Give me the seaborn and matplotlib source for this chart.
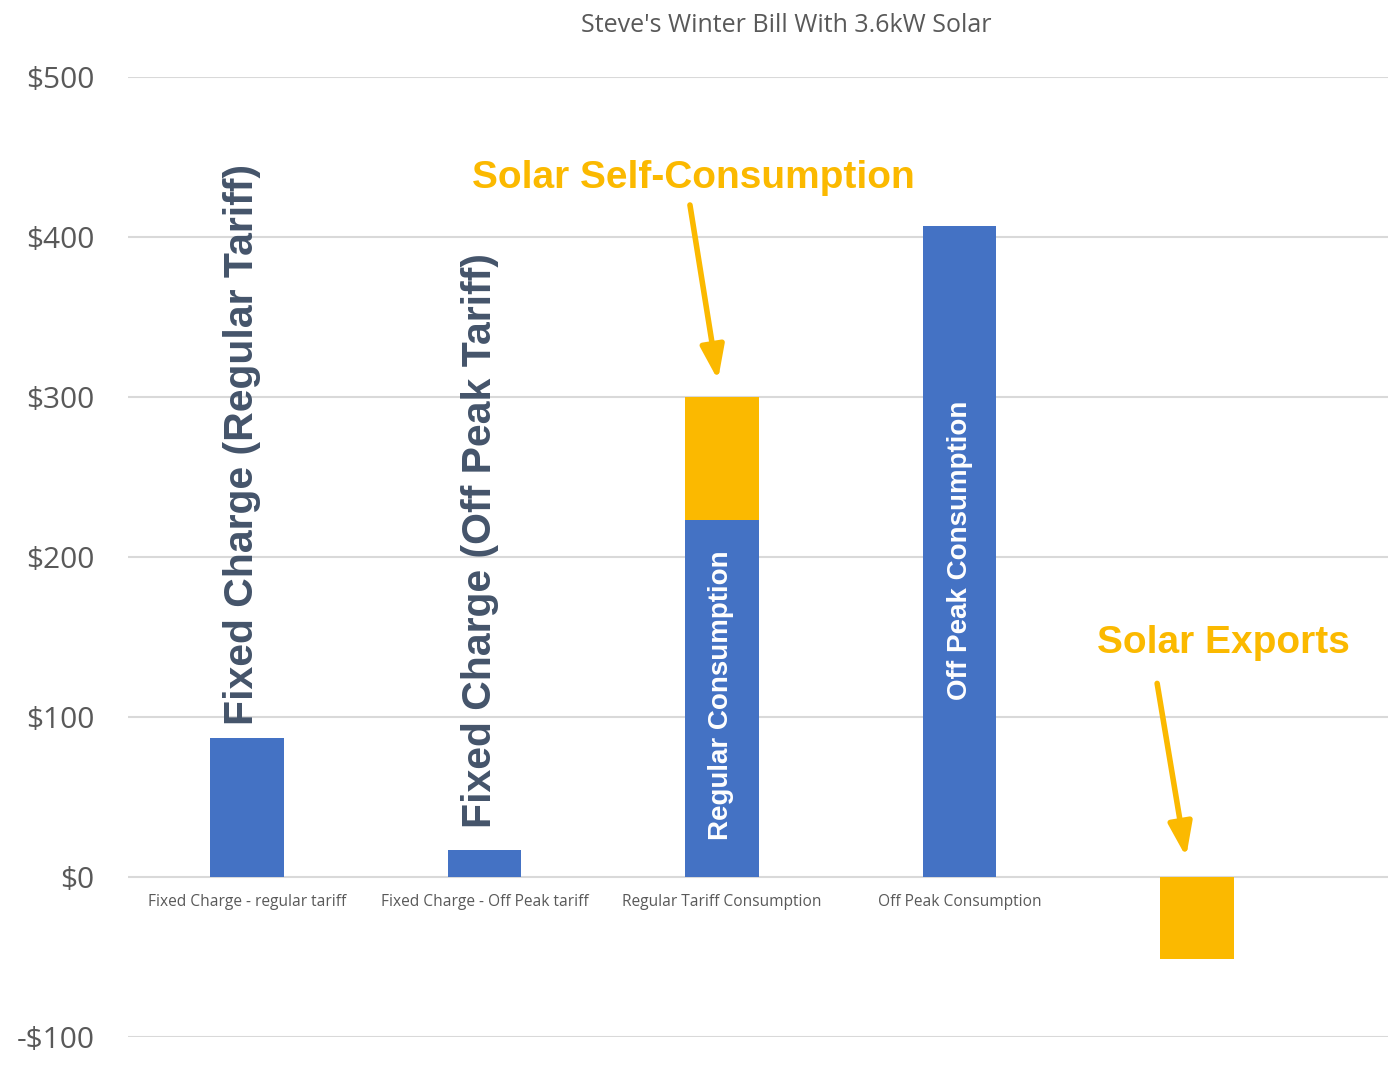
import matplotlib
matplotlib.use("Agg")
import matplotlib.pyplot as plt
import seaborn as sns
import pandas as pd

categories = ["Fixed Charge - regular tariff", "Fixed Charge - Off Peak tariff",
              "Regular Tariff Consumption", "Off Peak Consumption", " "]
grid_consumption = [87, 17, 223, 407, 0]          # blue series
solar_values = [0, 0, 77, 0, -51]                 # orange series (self-consumption / exports)
y_ticks = [-100, 0, 100, 200, 300, 400, 500]
y_tick_labels = ["-$100", "$0", "$100", "$200", "$300", "$400", "$500"]

BLUE = "#4472C4"
ORANGE = "#FBB900"
SLATE = "#44546A"
GRAY = "#595959"

sns.set_theme(style="white")
plt.rcParams["font.family"] = ["Liberation Sans", "DejaVu Sans"]

fig = plt.figure(figsize=(13.88, 10.68), dpi=100)
ax = fig.add_axes([128 / 1388, 31 / 1068, 1260 / 1388, 960 / 1068])

# orange bars: stacked top (blue + solar for positive, solar alone for exports)
orange_top = [b + s if s > 0 else s for b, s in zip(grid_consumption, solar_values)]
df_o = pd.DataFrame({"cat": categories, "val": orange_top})
df_b = pd.DataFrame({"cat": categories, "val": grid_consumption})
sns.barplot(data=df_o, x="cat", y="val", color=ORANGE, width=0.31, ax=ax,
            saturation=1, order=categories, zorder=3, linewidth=0)
sns.barplot(data=df_b, x="cat", y="val", color=BLUE, width=0.31, ax=ax,
            saturation=1, order=categories, zorder=4, linewidth=0)

ax.set_xlim(-0.501, 4.804)
ax.set_ylim(-100, 500)
ax.set_yticks(y_ticks)
ax.set_yticklabels(y_tick_labels, fontfamily="Open Sans", fontsize=21.5, color=GRAY)
ax.tick_params(axis="y", length=0, pad=24)
ax.spines["bottom"].set_position(("data", 0))
ax.tick_params(axis="x", length=0, pad=12)
for lab in ax.get_xticklabels():
    lab.set_fontfamily("Open Sans")
    lab.set_fontsize(11.2)
    lab.set_color(GRAY)
ax.set_xlabel("")
ax.set_ylabel("")
ax.grid(axis="y", color="#D9D9D9", lw=1.5, zorder=0)
ax.grid(axis="x", visible=False)
for s in ax.spines.values():
    s.set_visible(False)

fig.text(786 / 1388, 1 - 26 / 1068, "Steve's Winter Bill With 3.6kW Solar",
         ha="center", va="center", fontsize=18, color=GRAY, fontfamily="Open Sans")

# vertical labels
ax.text(-0.02, 95, "Fixed Charge (Regular Tariff)", rotation=90, ha="center", va="bottom",
        fontsize=29.5, fontweight="bold", color=SLATE, zorder=5)
ax.text(0.98, 30.6, "Fixed Charge (Off Peak Tariff)", rotation=90, ha="center", va="bottom",
        fontsize=29.5, fontweight="bold", color=SLATE, zorder=5)
ax.text(1.995, 23, "Regular Consumption", rotation=90, ha="center", va="bottom",
        fontsize=20, fontweight="bold", color="white", zorder=5)
ax.text(3.0, 110.6, "Off Peak Consumption", rotation=90, ha="center", va="bottom",
        fontsize=20, fontweight="bold", color="white", zorder=5)

# callouts
ax.text(1.878, 437, "Solar Self-Consumption", ha="center", va="center",
        fontsize=28, fontweight="bold", color=ORANGE, zorder=5)
ax.text(4.11, 146, "Solar Exports", ha="center", va="center",
        fontsize=28, fontweight="bold", color=ORANGE, zorder=5)

arrow_kw = dict(arrowstyle="-|>,head_length=1.7,head_width=0.6", color=ORANGE, lw=4,
                shrinkA=0, shrinkB=0)
ax.annotate("", xy=(1.983, 310.6), xytext=(1.865, 420), arrowprops=arrow_kw, zorder=6)
ax.annotate("", xy=(3.954, 12.5), xytext=(3.832, 121), arrowprops=arrow_kw, zorder=6)

fig.savefig("out.png", dpi=100, facecolor="white")
